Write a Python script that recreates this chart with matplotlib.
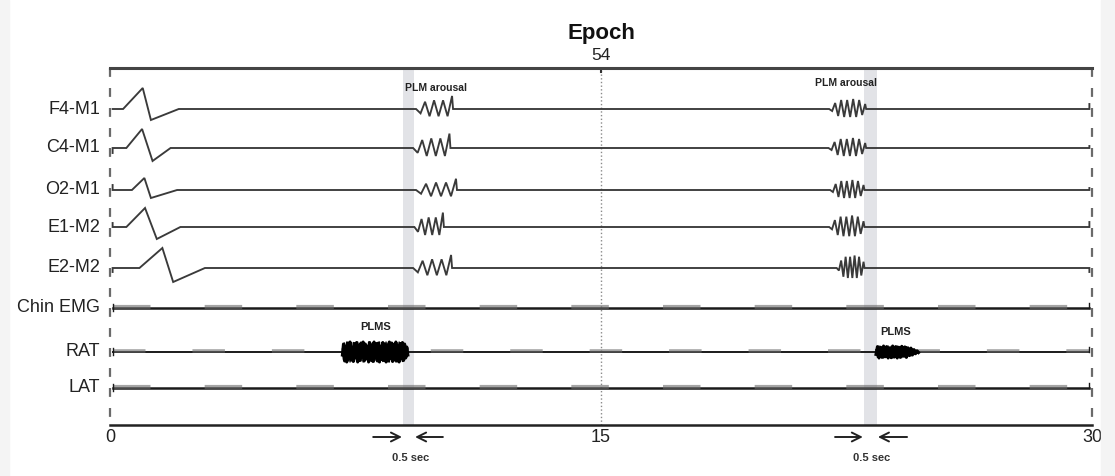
import numpy as np
import matplotlib
matplotlib.use("Agg")
import matplotlib.pyplot as plt
from matplotlib.patches import Rectangle

plt.rcParams['font.family'] = ['Liberation Sans', 'DejaVu Sans']

# ---- data (time in s, amplitudes in screen units, negative = up) ----
channels = ['F4-M1', 'C4-M1', 'O2-M1', 'E1-M2', 'E2-M2', 'Chin EMG', 'RAT', 'LAT']
baselines = [109, 148, 190, 227, 268, 308, 352, 388]   # layout rows

# transient at epoch start: rise start, peak t, peak amp, trough t, trough amp, back t
transient = {
    'F4-M1': (0.40, 1.00, -21, 1.25, 11, 2.10),
    'C4-M1': (0.50, 0.98, -19, 1.30, 13, 1.85),
    'O2-M1': (0.67, 1.05, -12, 1.25, 8, 2.05),
    'E1-M2': (0.50, 1.07, -19, 1.43, 12, 2.15),
    'E2-M2': (0.90, 1.60, -20, 1.93, 14, 2.90),
}
# PLM arousal windows per EEG/EOG channel
arousal1_span = {'F4-M1': (9.35, 10.48), 'C4-M1': (9.26, 10.40), 'O2-M1': (9.35, 10.60),
                 'E1-M2': (9.30, 10.20), 'E2-M2': (9.26, 10.45)}
arousal2_span = {'F4-M1': (21.97, 23.10), 'C4-M1': (21.95, 23.10), 'O2-M1': (22.00, 23.05),
                 'E1-M2': (21.97, 23.05), 'E2-M2': (22.20, 23.05)}
arousal1_gain = {'F4-M1': 1.45, 'C4-M1': 1.6, 'O2-M1': 1.25, 'E1-M2': 1.6, 'E2-M2': 1.45}
arousal2_gain = {'F4-M1': 1.0, 'C4-M1': 1.0, 'O2-M1': 1.0, 'E1-M2': 1.15, 'E2-M2': 1.25}
arousal1_wave = [0, 3, -5, 5, -6, 5, -6, 5, -9, 0]
arousal2_wave = [0, 2, -6, 7, -9, 8, -9, 8, -10, 8, -9, 6, -5, 0]

start_cap = {'F4-M1': 0, 'C4-M1': 5, 'O2-M1': -5, 'E1-M2': -4, 'E2-M2': 4}
end_cap = {'F4-M1': -5, 'C4-M1': -2, 'O2-M1': -2, 'E1-M2': -5, 'E2-M2': 4}

# PLMS bursts on RAT
burst1_span = (7.10, 9.10)
burst1_amp = 10
burst1_wave = [0.3, -0.8, 0.9, -0.6, 1.0, -0.9, 0.7, -1.0, 0.8, -0.5, 0.95, -0.85, 0.6, -0.95,
               1.0, -0.7, 0.85, -0.9, 0.5, -1.0, 0.9, -0.8, 0.7, -0.6, 1.0, -0.95, 0.8, -0.7,
               0.95, -1.0, 0.6, -0.85, 0.9, -0.9, 1.0, -0.6, 0.75, -0.95, 0.85, -0.8, 1.0, -0.7,
               0.9, -1.0, 0.65, -0.9, 0.95, -0.75, 0.8, -1.0, 0.9, -0.6, 1.0, -0.85, 0.7, -0.95,
               0.85, -0.8, 0.6, -0.5, 0.3]
burst2_span = (23.40, 24.70)
burst2_amp = 6
burst2_wave = [0.4, -0.9, 1.0, -0.8, 0.9, -1.0, 0.8, -0.9, 1.0, -0.7, 0.95, -1.0, 0.85, -0.9,
               1.0, -0.8, 0.9, -0.95, 0.7, -0.85, 0.9, -0.7, 0.6, -0.65, 0.5, -0.4, 0.3, -0.2, 0.1]

bands = [(8.95, 9.30), (23.04, 23.43)]
arousal_labels = [(9.96, 88), (22.49, 83)]
plms_labels = [(8.10, 327), (23.99, 332)]
arrows = [((8.04, 8.92), (10.17, 9.32), 9.17), ((22.15, 23.00), (24.35, 23.46), 23.28)]

TRACE = '#3a3a3a'

fig = plt.figure(figsize=(11.15, 4.76), dpi=100)
fig.patches.append(Rectangle((0, 0), 9 / 1115, 1, transform=fig.transFigure,
                             color='#f4f4f4', zorder=0))
fig.patches.append(Rectangle((1101 / 1115, 0), 14 / 1115, 1, transform=fig.transFigure,
                             color='#f4f4f4', zorder=0))
ax = fig.add_axes([110 / 1115, 51 / 476, 982 / 1115, 357 / 476])
ax.set_xlim(0, 30)
ax.set_ylim(425, 68)


def zig(span, wave, gain, base):
    t = list(np.linspace(span[0], span[1] - 0.03, len(wave) - 1)) + [span[1]]
    y = [base + w * gain for w in wave]
    return t, y


for name, base in zip(channels[:5], baselines[:5]):
    t0, tp, ap, tt, at, tb = transient[name]
    xs = [0.08, 0.08, t0, tp, tt, tb]
    ys = [base + start_cap[name], base, base, base + ap, base + at, base]
    tz, yz = zig(arousal1_span[name], arousal1_wave, arousal1_gain[name], base)
    xs += tz
    ys += yz
    tz, yz = zig(arousal2_span[name], arousal2_wave, arousal2_gain[name], base)
    xs += tz
    ys += yz
    xs += [29.92, 29.92]
    ys += [base, base + end_cap[name]]
    ax.plot(xs, ys, color=TRACE, lw=1.35, solid_joinstyle='miter')

# EMG channels: thick line with dashed texture
for name, base, lw in [('Chin EMG', baselines[5], 1.8), ('RAT', baselines[6], 1.4),
                       ('LAT', baselines[7], 1.8)]:
    ax.plot([0.08, 29.92], [base, base], color='#1a1a1a', lw=lw)
    ax.plot([0.08, 29.92], [base - 1, base - 1], color='#6a6a6a', lw=lw + 1.2,
            dashes=(9, 13), alpha=0.6)
    ax.plot([0.08, 0.08], [base - 4, base + 3], color='#1a1a1a', lw=1)
    ax.plot([29.92, 29.92], [base - 5, base], color='#1a1a1a', lw=1)

rat = baselines[6]
for span, amp, wave in [(burst1_span, burst1_amp, burst1_wave),
                        (burst2_span, burst2_amp, burst2_wave)]:
    t = np.linspace(span[0], span[1], len(wave))
    ax.plot(t, [rat + amp * w for w in wave], color='black', lw=2.2)
    ax.plot(t, [rat - amp * w for w in wave], color='black', lw=1.0)

for a, b in bands:
    ax.axvspan(a, b, color='#e2e3e7', zorder=0, lw=0)

ax.axvline(15, color='#8a8a8a', lw=1, ls=':', zorder=0)
for xv in (0, 30):
    ax.plot([xv, xv], [68, 425], color='#6a6a6a', lw=1.6, dashes=(4, 5),
            clip_on=False)

for s in ('left', 'right'):
    ax.spines[s].set_visible(False)
ax.spines['top'].set_linewidth(2.2)
ax.spines['top'].set_color('#444444')
ax.spines['bottom'].set_linewidth(1.8)
ax.spines['bottom'].set_color('#222222')

ax.set_xticks([0, 15, 30])
ax.set_xticklabels(['0', '15', '30'])
ax.tick_params(axis='x', length=0, pad=3, labelsize=13, labelcolor='#222222')
ax.set_yticks([])

for name, base in zip(channels, baselines):
    ax.text(-0.3, base, name, ha='right', va='center', fontsize=13,
            color='#222222', clip_on=False)

for x, y in arousal_labels:
    ax.text(x, y, 'PLM arousal', ha='center', va='center', fontsize=7.5,
            fontweight='bold', color='#222222')
for x, y in plms_labels:
    ax.text(x, y, 'PLMS', ha='center', va='center', fontsize=8,
            fontweight='bold', color='#222222')

for (r0, r1), (l0, l1), xl in arrows:
    for a0, a1 in ((r0, r1), (l0, l1)):
        ax.annotate('', xy=(a1, 437), xytext=(a0, 437), annotation_clip=False,
                    arrowprops=dict(arrowstyle='->', lw=1.4, color='#222222',
                                    mutation_scale=16, shrinkA=0, shrinkB=0))
    ax.text(xl, 458, '0.5 sec', ha='center', va='center', fontsize=8,
            fontweight='bold', color='#333333', clip_on=False)

fig.text(601 / 1115, 1 - 33 / 476, 'Epoch', ha='center', va='center',
         fontsize=16, fontweight='bold', color='#111111')
fig.text(601 / 1115, 1 - 55 / 476, '54', ha='center', va='center',
         fontsize=12.5, color='#222222')
ax.plot([15, 15], [68, 72], color='#333333', lw=1.5)

fig.savefig('out.png', dpi=100)
